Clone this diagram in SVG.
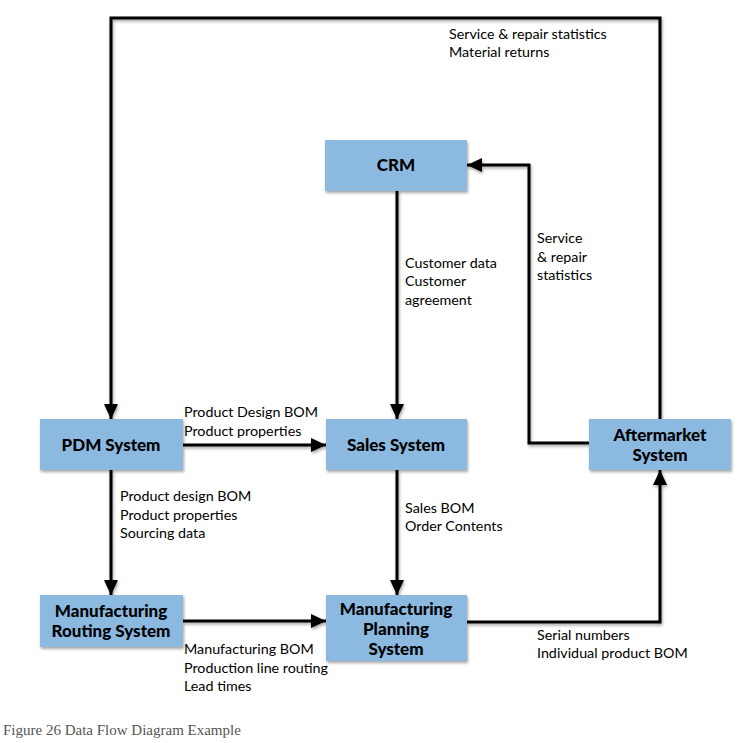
<svg xmlns="http://www.w3.org/2000/svg" width="745" height="743" viewBox="0 0 745 743">
<defs>
<filter id="sh" filterUnits="userSpaceOnUse" x="0" y="0" width="745" height="743">
<feDropShadow dx="1" dy="2" stdDeviation="1.5" flood-color="#000" flood-opacity="0.35"/>
</filter>
<marker id="ah" markerUnits="userSpaceOnUse" markerWidth="16" markerHeight="16" viewBox="0 0 16 16" refX="15" refY="8" orient="auto">
<path d="M0,1 L15,8 L0,15 Z" fill="#000"/>
</marker>
<style>
.box{fill:#8bb9e0;filter:url(#sh)}
.nl{font-family:Lato,"Open Sans",sans-serif;font-weight:900;font-size:17px;fill:#000;text-anchor:middle}
.lb{font-family:Lato,"Open Sans",sans-serif;font-size:14.3px;fill:#000}
.ln{fill:none;stroke:#000;stroke-width:3;filter:url(#sh)}
.cap{font-family:"Liberation Serif",serif;font-size:15px;fill:#555}
</style>
</defs>
<g id="connectors">
<path class="ln" d="M660,419 V18 H111 V419" marker-end="url(#ah)"/>
<path class="ln" d="M589,443 H529 V165 H467" marker-end="url(#ah)"/>
<path class="ln" d="M467,622 H660 V470" marker-end="url(#ah)"/>
<path class="ln" d="M397,191 V419" marker-end="url(#ah)"/>
<path class="ln" d="M183,445 H326" marker-end="url(#ah)"/>
<path class="ln" d="M111,470 V595" marker-end="url(#ah)"/>
<path class="ln" d="M397,470 V595" marker-end="url(#ah)"/>
<path class="ln" d="M183,621 H326" marker-end="url(#ah)"/>
</g>
<g id="labels">
<text class="lb" x="449" y="39">Service &amp; repair statistics</text>
<text class="lb" x="449" y="57">Material returns</text>
<text class="lb" x="537" y="243">Service</text>
<text class="lb" x="537" y="262">&amp; repair</text>
<text class="lb" x="537" y="280">statistics</text>
<text class="lb" x="405" y="268">Customer data</text>
<text class="lb" x="405" y="286">Customer</text>
<text class="lb" x="405" y="305">agreement</text>
<text class="lb" x="184" y="417">Product Design BOM</text>
<text class="lb" x="184" y="436">Product properties</text>
<text class="lb" x="120" y="501">Product design BOM</text>
<text class="lb" x="120" y="520">Product properties</text>
<text class="lb" x="120" y="538">Sourcing data</text>
<text class="lb" x="405" y="513">Sales BOM</text>
<text class="lb" x="405" y="531">Order Contents</text>
<text class="lb" x="184" y="654">Manufacturing BOM</text>
<text class="lb" x="184" y="673">Production line routing</text>
<text class="lb" x="184" y="691">Lead times</text>
<text class="lb" x="537" y="640">Serial numbers</text>
<text class="lb" x="537" y="658">Individual product BOM</text>
</g>
<g id="crm">
<rect class="box" x="325" y="140" width="142" height="51"/>
<text class="nl" x="396" y="171">CRM</text>
</g>
<g id="sales">
<rect class="box" x="326" y="419" width="141" height="51"/>
<text class="nl" x="396" y="451">Sales System</text>
</g>
<g id="pdm">
<rect class="box" x="40" y="419" width="143" height="51"/>
<text class="nl" x="111" y="451">PDM System</text>
</g>
<g id="aftermarket">
<rect class="box" x="589" y="419" width="142" height="51"/>
<text class="nl" x="660" y="441">Aftermarket</text>
<text class="nl" x="660" y="461">System</text>
</g>
<g id="routing">
<rect class="box" x="40" y="595" width="143" height="52"/>
<text class="nl" x="111" y="617">Manufacturing</text>
<text class="nl" x="111" y="637">Routing System</text>
</g>
<g id="planning">
<rect class="box" x="326" y="595" width="141" height="66"/>
<text class="nl" x="396" y="615">Manufacturing</text>
<text class="nl" x="396" y="635">Planning</text>
<text class="nl" x="396" y="655">System</text>
</g>
<text class="cap" x="3" y="735">Figure 26 Data Flow Diagram Example</text>
</svg>
